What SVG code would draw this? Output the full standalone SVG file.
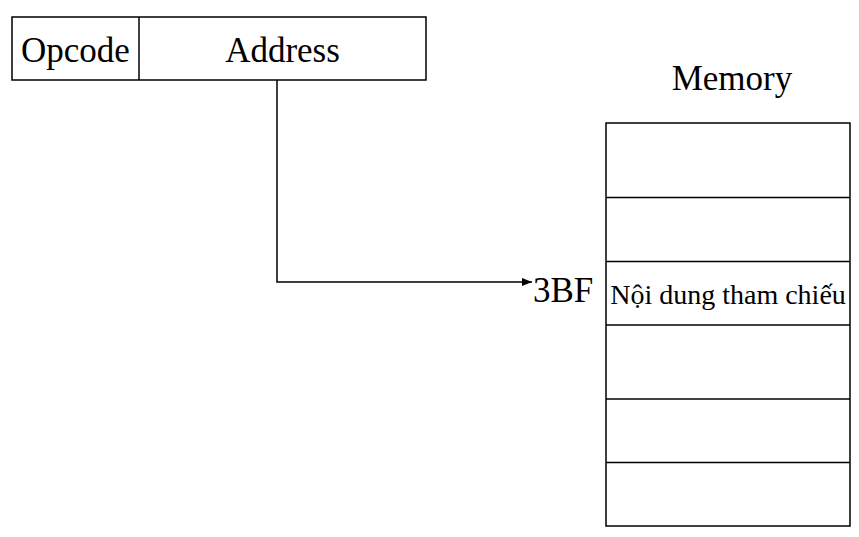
<svg xmlns="http://www.w3.org/2000/svg" width="859" height="537" viewBox="0 0 859 537">
<style>
.b{fill:#fff;stroke:#000;stroke-width:1.5}
.l{stroke:#000;stroke-width:1.5;fill:none}
.t{font-family:"Liberation Serif","Times New Roman",serif;font-size:35px;fill:#000}
.s{font-family:"Liberation Serif","Times New Roman",serif;font-size:28px;fill:#000}
</style>
<defs>
<marker id="ah" markerWidth="10" markerHeight="8" refX="10" refY="4" orient="auto" markerUnits="userSpaceOnUse">
<path d="M0,0 L10,4 L0,8 Z" fill="#000"/>
</marker>
</defs>
<rect width="859" height="537" fill="#fff"/>
<g id="instruction">
<rect class="b" x="12" y="17" width="414" height="63"/>
<line class="l" x1="139" y1="17" x2="139" y2="80"/>
<text class="t" x="75.5" y="62" text-anchor="middle">Opcode</text>
<text class="t" x="282.5" y="62" text-anchor="middle">Address</text>
</g>
<g id="memory">
<text class="t" x="732" y="90" text-anchor="middle">Memory</text>
<rect class="b" x="606" y="123" width="244" height="403"/>
<line class="l" x1="606" y1="197.5" x2="850" y2="197.5"/>
<line class="l" x1="606" y1="261.5" x2="850" y2="261.5"/>
<line class="l" x1="606" y1="325" x2="850" y2="325"/>
<line class="l" x1="606" y1="399" x2="850" y2="399"/>
<line class="l" x1="606" y1="462.5" x2="850" y2="462.5"/>
<text class="s" x="728" y="304" text-anchor="middle">Nội dung tham chiếu</text>
</g>
<g id="addr-label">
<text class="t" x="533" y="302">3BF</text>
</g>
<g id="connectors">
<path class="l" d="M277,80 L277,282 L532,282" marker-end="url(#ah)"/>
</g>
</svg>
